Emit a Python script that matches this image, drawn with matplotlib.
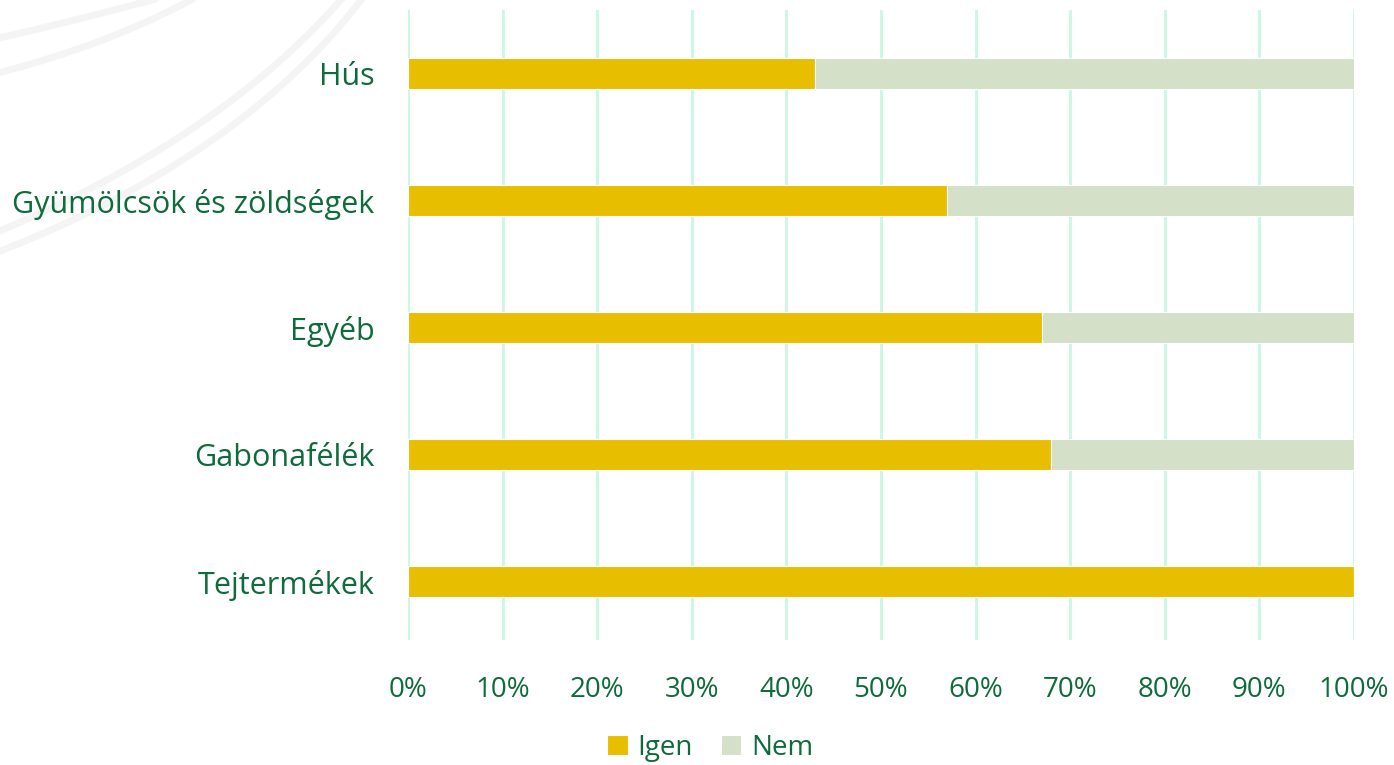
import numpy as np
import matplotlib
matplotlib.use("Agg")
import matplotlib.pyplot as plt

CATEGORIES = ["Tejtermékek", "Gabonafélék", "Egyéb", "Gyümölcsök és zöldségek", "Hús"]
IGEN = [100, 68, 67, 57, 43]
NEM = [0, 32, 33, 43, 57]
SERIES = ["Igen", "Nem"]
X_TICKS = [0, 10, 20, 30, 40, 50, 60, 70, 80, 90, 100]

TEXT_GREEN = "#0e6b3a"
YELLOW = "#e8be00"
SAGE = "#d4e0c8"
GRID = "#cbf7e3"

plt.rcParams["font.family"] = ["Open Sans", "DejaVu Sans"]

fig = plt.figure(figsize=(13.94, 7.65), dpi=100)

# faint decorative arcs in the background (upper left)
bg = fig.add_axes([0, 0, 1, 1], zorder=-5)
bg.set_xlim(0, 1394)
bg.set_ylim(765, 0)
bg.axis("off")
t = np.linspace(0, 1, 200)


def arc(p0, p1, p2):
    bx = (1 - t) ** 2 * p0[0] + 2 * (1 - t) * t * p1[0] + t ** 2 * p2[0]
    by = (1 - t) ** 2 * p0[1] + 2 * (1 - t) * t * p1[1] + t ** 2 * p2[1]
    bg.plot(bx, by, color="#f3f4f3", lw=5, solid_capstyle="round")


arc((-10, 40), (80, 20), (170, -5))
arc((-10, 75), (110, 45), (200, -5))
arc((-10, 235), (220, 140), (345, -5))
arc((-10, 255), (240, 160), (365, -5))

ax = fig.add_axes([408 / 1394, 1 - 640 / 765, (1354 - 408) / 1394, (640 - 10) / 765])
ax.patch.set_alpha(0)
y = np.arange(len(CATEGORIES))
h = 0.24
ax.barh(y, IGEN, height=h, color=YELLOW, label=SERIES[0], zorder=3,
        edgecolor="white", linewidth=0.8)
ax.barh(y, NEM, left=IGEN, height=h, color=SAGE, label=SERIES[1], zorder=3,
        edgecolor="white", linewidth=0.8)

ax.set_xlim(0, 100)
ax.set_ylim(-0.46, 4.5)
ax.set_xticks(X_TICKS)
ax.set_xticklabels([f"{v}%" for v in X_TICKS])
ax.set_yticks(y)
ax.set_yticklabels(CATEGORIES)
ax.grid(axis="x", color=GRID, linewidth=2, zorder=0)
ax.tick_params(length=0, colors=TEXT_GREEN)
ax.tick_params(axis="x", pad=26, labelsize=20)
ax.tick_params(axis="y", pad=24, labelsize=22)
for s in ax.spines.values():
    s.set_visible(False)

fig.legend(loc="center", bbox_to_anchor=(710 / 1394, 1 - 748 / 765), ncol=2,
           frameon=False, fontsize=20, labelcolor=TEXT_GREEN,
           handlelength=0.75, handleheight=0.75, handletextpad=0.35, columnspacing=1.0)

fig.savefig("out.png", dpi=100)
